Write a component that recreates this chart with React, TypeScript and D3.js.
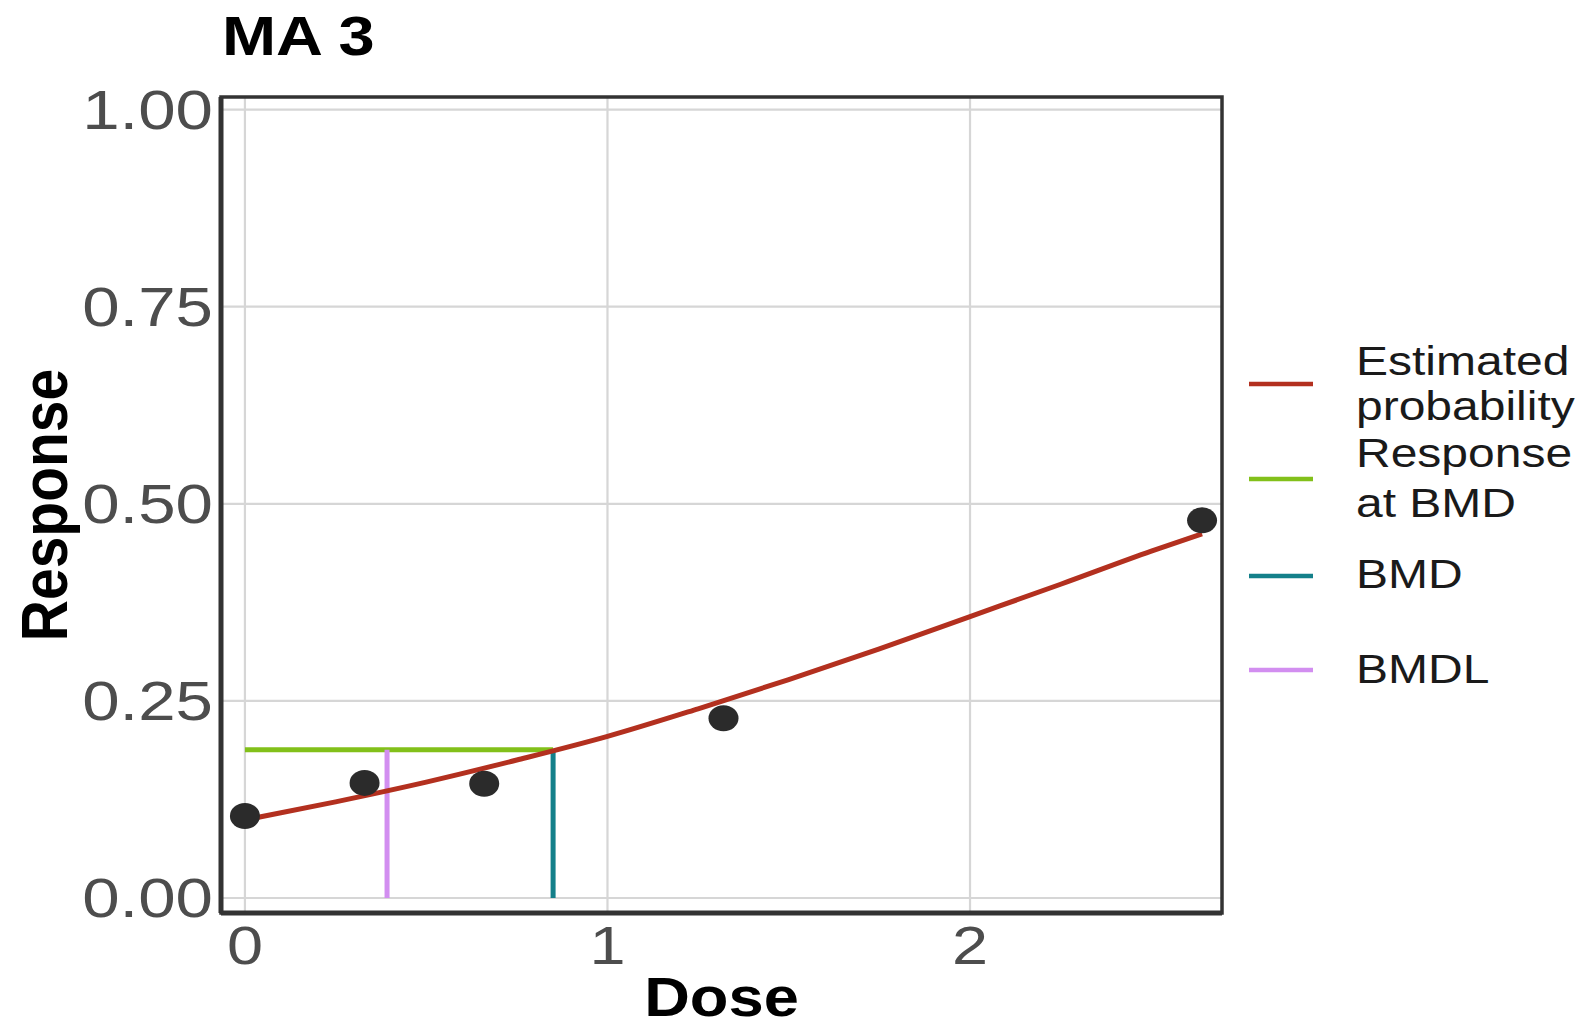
import React from 'react';
import * as d3 from 'd3';

// observed data
const doses = [0, 0.33, 0.66, 1.32, 2.64];
const responses = [0.104, 0.146, 0.145, 0.228, 0.479];

// fitted curve
const curveDose = [0, 0.25, 0.5, 0.75, 1, 1.25, 1.5, 1.75, 2, 2.25, 2.5, 2.64];
const curveProb = [0.099, 0.122, 0.147, 0.175, 0.205, 0.24, 0.277, 0.316, 0.357, 0.398, 0.44, 0.462];

const bmd = 0.85;
const bmdl = 0.392;
const bmdResponse = 0.188;

const xTicks = [0, 1, 2];
const yTicks = [0, 0.25, 0.5, 0.75, 1];

const legendLabels = [
  ['Estimated', 'probability'],
  ['Response', 'at BMD'],
  ['BMD'],
  ['BMDL'],
];
const legendColors = ['#b3301f', '#82c01a', '#14808a', '#d28ef0'];

const W = 1593;
const H = 1028;
const panel = { left: 221, right: 1222, top: 97, bottom: 913 };
const SX = 1.2; // the reference is stretched sideways
const FONT = '"Liberation Sans", Arial, Helvetica, sans-serif';

export default function App() {
  const x = d3.scaleLinear().domain([-0.066, 2.695]).range([panel.left, panel.right]);
  const y = d3.scaleLinear().domain([-0.019, 1.016]).range([panel.bottom, panel.top]);

  const line = d3
    .line<number>()
    .x((_d, i) => x(curveDose[i]))
    .y(d => y(d))
    .curve(d3.curveMonotoneX);

  const legendKeyY = [384, 479, 576, 670];
  const legendTextY = [[375, 420], [467, 517], [588], [683]];

  return (
    <svg
      width={W}
      height={H}
      style={{ position: 'absolute', left: 0, top: 0, background: '#fff', fontFamily: FONT }}
    >
      {/* grid */}
      {xTicks.map(t => (
        <line key={'gx' + t} x1={x(t)} x2={x(t)} y1={panel.top} y2={panel.bottom} stroke="#d6d6d6" strokeWidth={2.2} />
      ))}
      {yTicks.map(t => (
        <line key={'gy' + t} x1={panel.left} x2={panel.right} y1={y(t)} y2={y(t)} stroke="#d6d6d6" strokeWidth={2.2} />
      ))}

      {/* reference lines */}
      <line x1={x(0)} x2={x(bmd)} y1={y(bmdResponse)} y2={y(bmdResponse)} stroke={legendColors[1]} strokeWidth={5} />
      <line x1={x(bmd)} x2={x(bmd)} y1={y(0)} y2={y(bmdResponse)} stroke={legendColors[2]} strokeWidth={5} />
      <line x1={x(bmdl)} x2={x(bmdl)} y1={y(0)} y2={y(bmdResponse)} stroke={legendColors[3]} strokeWidth={5} />

      {/* curve */}
      <path d={line(curveProb) || ''} fill="none" stroke={legendColors[0]} strokeWidth={5} />

      {/* points */}
      {doses.map((d, i) => (
        <ellipse key={'p' + i} cx={x(d)} cy={y(responses[i])} rx={15} ry={13} fill="#2b2b2b" />
      ))}

      {/* frame */}
      <rect
        x={panel.left}
        y={panel.top}
        width={panel.right - panel.left}
        height={panel.bottom - panel.top}
        fill="none"
        stroke="#333"
        strokeWidth={3.5}
      />
      <line x1={panel.left} x2={panel.left} y1={panel.top} y2={panel.bottom} stroke="#333" strokeWidth={5} />
      <line x1={panel.left} x2={panel.right} y1={panel.bottom} y2={panel.bottom} stroke="#333" strokeWidth={5} />

      {/* y tick labels */}
      {yTicks.map(t => (
        <text
          key={'yl' + t}
          transform={`translate(213,${y(t)}) scale(${SX},1)`}
          textAnchor="end"
          dominantBaseline="central"
          fontSize={56}
          fill="#4d4d4d"
        >
          {d3.format('.2f')(t)}
        </text>
      ))}

      {/* x tick labels */}
      {xTicks.map(t => (
        <text
          key={'xl' + t}
          transform={`translate(${x(t)},964) scale(${SX},1)`}
          textAnchor="middle"
          fontSize={54}
          fill="#4d4d4d"
        >
          {t}
        </text>
      ))}

      {/* titles */}
      <text transform={`translate(222,55) scale(1.16,1)`} fontSize={56} fontWeight="bold" fill="#000">
        MA 3
      </text>
      <text
        transform={`translate(${(panel.left + panel.right) / 2},1016) scale(1.13,1)`}
        textAnchor="middle"
        fontSize={56}
        fontWeight="bold"
        fill="#000"
      >
        Dose
      </text>
      <text
        transform={`translate(67,${(panel.top + panel.bottom) / 2}) scale(1.15,1) rotate(-90)`}
        textAnchor="middle"
        fontSize={57}
        fontWeight="bold"
        fill="#000"
      >
        Response
      </text>

      {/* legend */}
      {legendLabels.map((lines, i) => (
        <g key={'lg' + i}>
          <line x1={1249} x2={1313} y1={legendKeyY[i]} y2={legendKeyY[i]} stroke={legendColors[i]} strokeWidth={4.5} />
          {lines.map((s, j) => (
            <text
              key={j}
              transform={`translate(1356,${legendTextY[i][j]}) scale(1.2,1)`}
              fontSize={40}
              fill="#1a1a1a"
            >
              {s}
            </text>
          ))}
        </g>
      ))}
    </svg>
  );
}
